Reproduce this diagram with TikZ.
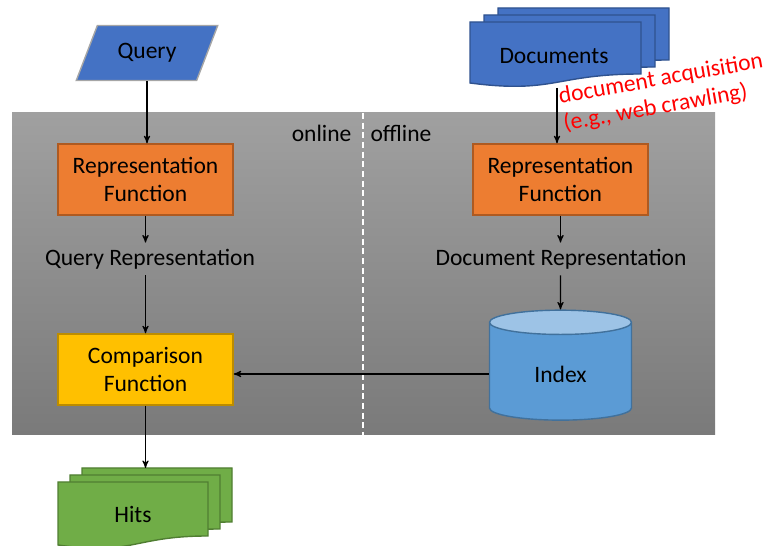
\documentclass[tikz,border=0pt]{standalone}
\usepackage{fontspec}
\setmainfont{Carlito}
\usepackage{tikz}
\usetikzlibrary{arrows, shapes.geometric}

\definecolor{inputblue}{HTML}{4472C4}
\definecolor{docline}{HTML}{2F528F}
\definecolor{funcfill}{HTML}{ED7D31}
\definecolor{funcline}{HTML}{AE5A21}
\definecolor{compfill}{HTML}{FFC000}
\definecolor{compline}{HTML}{BC8C00}
\definecolor{hitfill}{HTML}{70AD47}
\definecolor{hitline}{HTML}{507E32}
\definecolor{indexfill}{HTML}{5B9BD5}
\definecolor{indextop}{HTML}{9DC3E6}
\definecolor{indexline}{HTML}{41719C}
\definecolor{bgtop}{HTML}{A0A0A0}
\definecolor{bgbottom}{HTML}{7A7A7A}

\begin{document}
\begin{tikzpicture}[x=0.02cm, y=-0.02cm, >=stealth', line width=0.6pt,
  every node/.style={font=\fontsize{13.4}{15.5}\selectfont},
  func node/.style={rectangle, draw=funcline, fill=funcfill, line width=0.8pt, minimum width=3.5cm, minimum height=1.42cm, align=center},
  comp node/.style={func node, draw=compline, fill=compfill},
  input node/.style={trapezium, trapezium left angle=64, trapezium right angle=116, trapezium stretches=true, draw=gray!70, fill=inputblue, line width=0.8pt, minimum width=2.84cm, minimum height=1.1cm},
  store node/.style={cylinder, shape border rotate=90, aspect=0.38, draw=indexline, line width=0.8pt, cylinder uses custom fill, cylinder body fill=indexfill, cylinder end fill=indextop, minimum width=2.84cm, minimum height=2.2cm},
  doc page/.style={draw=docline, fill=inputblue, line width=0.8pt},
  hit page/.style={draw=hitline, fill=hitfill, line width=0.8pt},
  side label/.style={inner sep=0pt}]

        \useasboundingbox (0,0) rectangle (769,546);

        % Background: online / offline
        \shade[top color=bgtop, bottom color=bgbottom] (12,113) rectangle (715,435);
        \draw[white, line width=0.8pt, dash pattern=on 3.5pt off 2pt] (363,113) -- (363,435);
        \node[side label, anchor=east] (online) at (352,133) {online};
        \node[side label, anchor=west] (offline) at (370,133) {offline};

        % Stacked pages
        \foreach \k in {2,1,0}{
          \begin{scope}[shift={(14*\k,-7*\k)}]
            \filldraw[doc page] (470,22) -- (641,22) -- (641,74)
              .. controls (555,74) and (555,94) .. (470,83) -- cycle;
          \end{scope}
          \begin{scope}[shift={(12*\k,-7*\k)}]
            \filldraw[hit page] (58,482) -- (208,482) -- (208,536)
              .. controls (133,536) and (133,556) .. (58,545) -- cycle;
          \end{scope}
        }

        % Nodes
        \node[input node] (query) at (147,53) {Query};
        \node (docs) at (554,56) {Documents};
        \node[func node] (qfunc) at (145.5,179.5) {Representation\\Function};
        \node[func node] (dfunc) [right of=qfunc, node distance=8.3cm] {Representation\\Function};
        \node (qrep) at (150,259) {Query Representation};
        \node (drep) at (561,259) {Document Representation};
        \node[comp node] (comp) [below of=qfunc, node distance=3.8cm] {Comparison\\Function};
        \node[store node] (index) at (560.5,374) {Index};
        \node (hits) at (133,514) {Hits};
        \node[side label, text=red, align=left, rotate=10, anchor=west] (acq) at (561,111) {document acquisition\\(e.g., web crawling)};
        \coordinate (crawl) at (557,88);
        \coordinate (hitstop) at (147,468);

        % Arrows
        \path[->]
        (query.south) edge (query.south |- qfunc.north)
        (qfunc) edge (qfunc |- qrep.north)
        (qfunc |- qrep.south) edge (comp)
        (crawl) edge (crawl |- dfunc.north)
        (index |- dfunc.south) edge (index |- drep.north)
        (index |- drep.south) edge (index.north)
        (index.west) edge (index.west -| comp.east)
        (comp.south) edge (comp.south |- hitstop);
    \end{tikzpicture}
\end{document}
